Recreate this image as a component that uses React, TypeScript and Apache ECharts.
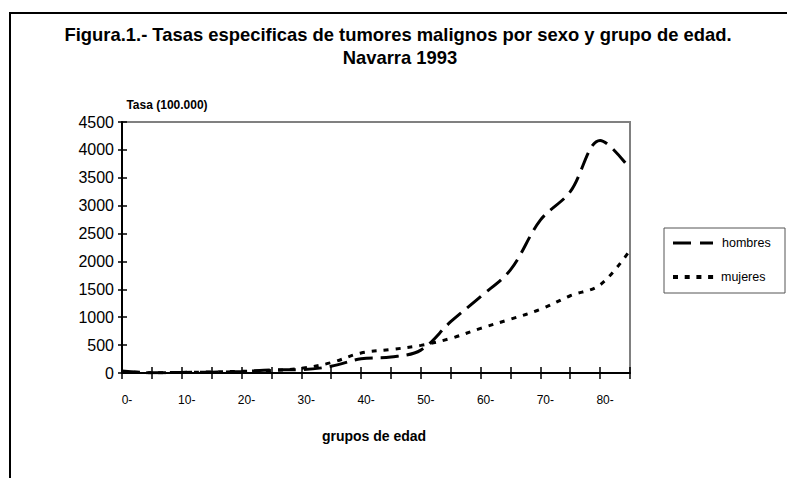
import React, { useEffect, useRef } from "react";
import * as echarts from "echarts";

const categories = ["0-", "5-", "10-", "15-", "20-", "25-", "30-", "35-", "40-", "45-", "50-", "55-", "60-", "65-", "70-", "75-", "80-", "85+"];
const seriesNames = ["hombres", "mujeres"];
const hombres = [35, 5, 10, 15, 25, 55, 60, 120, 255, 285, 410, 920, 1370, 1850, 2740, 3250, 4170, 3660];
const mujeres = [25, 5, 10, 20, 30, 45, 85, 185, 360, 420, 495, 620, 800, 965, 1140, 1385, 1580, 2200];
const titleLines = ["Figura.1.- Tasas especificas de tumores malignos por sexo y grupo de edad.", "Navarra 1993"];
const yAxisName = "Tasa (100.000)";
const xAxisName = "grupos de edad";

const FONT = "'Liberation Sans', Arial, sans-serif";

export default function App() {
  const ref = useRef<HTMLDivElement>(null);
  useEffect(() => {
    if (!ref.current) return;
    const chart = echarts.init(ref.current, null, { renderer: "svg" });
    const yCommon = { type: "value", min: 0, max: 4500, interval: 500, splitLine: { show: false } };
    chart.setOption({
      animation: false,
      backgroundColor: "#fff",
      textStyle: { fontFamily: FONT },
      grid: {
        show: true,
        borderColor: "#808080",
        borderWidth: 2,
        left: 122,
        top: 122,
        right: 157,
        bottom: 105,
        outerBoundsMode: "none",
      },
      xAxis: [
        {
          type: "category",
          data: categories,
          boundaryGap: false,
          position: "bottom",
          axisLine: { lineStyle: { color: "#000", width: 2 } },
          axisTick: { show: true, interval: 0, length: 6, lineStyle: { color: "#000", width: 1.5 } },
          axisLabel: {
            interval: 1,
            color: "#000",
            fontSize: 12,
            fontFamily: FONT,
            margin: 21,
            padding: [0, 0, 0, 10],
          },
          splitLine: { show: false },
        },
        {
          type: "category",
          data: categories,
          boundaryGap: false,
          position: "bottom",
          axisLine: { show: false },
          axisTick: { show: true, inside: true, interval: 0, length: 6, lineStyle: { color: "#000", width: 1.5 } },
          axisLabel: { show: false },
          splitLine: { show: false },
        },
      ],
      yAxis: [
        {
          ...yCommon,
          position: "left",
          axisLine: { show: true, lineStyle: { color: "#000", width: 2 } },
          axisTick: { show: true, length: 4, lineStyle: { color: "#000", width: 1.5 } },
          axisLabel: { color: "#000", fontSize: 16, fontFamily: FONT, margin: 8, formatter: (v: number) => String(v) },
        },
        {
          ...yCommon,
          position: "left",
          axisLine: { show: false },
          axisTick: { show: true, inside: true, length: 5, lineStyle: { color: "#000", width: 1.5 } },
          axisLabel: { show: false },
        },
      ],
      series: [
        {
          name: seriesNames[0],
          type: "line",
          data: hombres,
          xAxisIndex: 0,
          yAxisIndex: 0,
          smooth: 0.35,
          showSymbol: false,
          lineStyle: { color: "#000", width: 3, type: [18, 8] },
        },
        {
          name: seriesNames[1],
          type: "line",
          data: mujeres,
          xAxisIndex: 0,
          yAxisIndex: 0,
          smooth: 0.35,
          showSymbol: false,
          lineStyle: { color: "#000", width: 3, type: [5, 7] },
        },
      ],
      graphic: [
        {
          type: "rect",
          shape: { x: 10, y: 13, width: 820, height: 520 },
          style: { fill: "none", stroke: "#000", lineWidth: 2 },
          silent: true,
        },
        {
          type: "text",
          x: 398,
          y: 34,
          style: { text: titleLines[0], fontSize: 18.4, fontWeight: "bold", fontFamily: FONT, fill: "#000", textAlign: "center", textVerticalAlign: "middle" },
        },
        {
          type: "text",
          x: 400,
          y: 57,
          style: { text: titleLines[1], fontSize: 18.4, fontWeight: "bold", fontFamily: FONT, fill: "#000", textAlign: "center", textVerticalAlign: "middle" },
        },
        {
          type: "text",
          x: 167,
          y: 105,
          style: { text: yAxisName, fontSize: 12, fontWeight: "bold", fontFamily: FONT, fill: "#000", textAlign: "center", textVerticalAlign: "middle" },
        },
        {
          type: "text",
          x: 374,
          y: 436,
          style: { text: xAxisName, fontSize: 14, fontWeight: "bold", fontFamily: FONT, fill: "#000", textAlign: "center", textVerticalAlign: "middle" },
        },
        {
          type: "rect",
          shape: { x: 664, y: 228, width: 121, height: 65 },
          style: { fill: "#fff", stroke: "#555", lineWidth: 1 },
        },
        {
          type: "line",
          shape: { x1: 673, y1: 243, x2: 713, y2: 243 },
          style: { stroke: "#000", lineWidth: 3, lineDash: [18, 9] },
        },
        {
          type: "text",
          x: 722,
          y: 243,
          style: { text: seriesNames[0], fontSize: 12.5, fontFamily: FONT, fill: "#000", textAlign: "left", textVerticalAlign: "middle" },
        },
        {
          type: "line",
          shape: { x1: 673, y1: 277, x2: 714, y2: 277 },
          style: { stroke: "#000", lineWidth: 4, lineDash: [5, 6.7] },
        },
        {
          type: "text",
          x: 721,
          y: 277,
          style: { text: seriesNames[1], fontSize: 12.5, fontFamily: FONT, fill: "#000", textAlign: "left", textVerticalAlign: "middle" },
        },
      ],
    });
    return () => chart.dispose();
  }, []);
  return (
    <div
      ref={ref}
      style={{ position: "absolute", left: 0, top: 0, width: 787, height: 478, background: "#fff" }}
    />
  );
}
